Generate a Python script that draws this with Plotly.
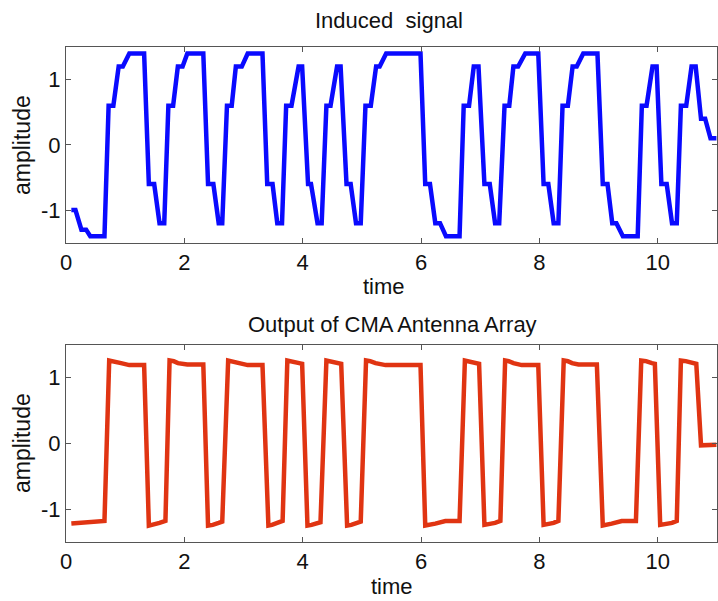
import plotly.graph_objects as go

# Induced signal (blue) breakpoints
induced_t = [0.09, 0.16, 0.26, 0.34, 0.41, 0.65, 0.72, 0.80, 0.89, 0.96, 1.07, 1.32, 1.40, 1.49, 1.58, 1.66,
             1.73, 1.81, 1.89, 1.97, 2.05, 2.32, 2.40, 2.49, 2.58, 2.64, 2.72, 2.80, 2.87, 2.97, 3.07, 3.32,
             3.40, 3.49, 3.57, 3.65, 3.72, 3.81, 3.93, 3.99, 4.09, 4.14, 4.25, 4.32, 4.40, 4.47, 4.58, 4.64,
             4.74, 4.81, 4.90, 4.98, 5.06, 5.15, 5.24, 5.30, 5.41, 5.99, 6.07, 6.15, 6.24, 6.32, 6.42, 6.65,
             6.72, 6.81, 6.89, 6.97, 7.07, 7.16, 7.25, 7.32, 7.41, 7.49, 7.56, 7.64, 7.76, 7.98, 8.07, 8.15,
             8.24, 8.32, 8.39, 8.48, 8.56, 8.63, 8.74, 8.98, 9.07, 9.15, 9.23, 9.30, 9.41, 9.66, 9.73, 9.81,
             9.91, 9.98, 10.06, 10.15, 10.24, 10.32, 10.39, 10.48, 10.57, 10.64, 10.73, 10.80, 10.89, 10.99]
induced_y = [-1.0, -1.0, -1.3, -1.3, -1.4, -1.4, 0.6, 0.6, 1.2, 1.2, 1.4, 1.4, -0.6, -0.6, -1.2, -1.2,
             0.6, 0.6, 1.2, 1.2, 1.4, 1.4, -0.6, -0.6, -1.2, -1.2, 0.6, 0.6, 1.2, 1.2, 1.4, 1.4,
             -0.6, -0.6, -1.2, -1.2, 0.6, 0.6, 1.2, 1.2, -0.6, -0.6, -1.2, -1.2, 0.6, 0.6, 1.2, 1.2,
             -0.6, -0.6, -1.2, -1.2, 0.6, 0.6, 1.2, 1.2, 1.4, 1.4, -0.6, -0.6, -1.2, -1.2, -1.4, -1.4,
             0.6, 0.6, 1.2, 1.2, -0.6, -0.6, -1.2, -1.2, 0.6, 0.6, 1.2, 1.2, 1.4, 1.4, -0.6, -0.6,
             -1.2, -1.2, 0.6, 0.6, 1.2, 1.2, 1.4, 1.4, -0.6, -0.6, -1.2, -1.2, -1.4, -1.4, 0.6, 0.6,
             1.2, 1.2, -0.6, -0.6, -1.2, -1.2, 0.6, 0.6, 1.2, 1.2, 0.4, 0.4, 0.1, 0.1]

# CMA antenna array output (red) breakpoints
output_t = [0.09, 0.30, 0.50, 0.65, 0.73, 0.80, 0.93, 1.07, 1.32, 1.40, 1.47, 1.58, 1.68, 1.75, 1.82, 1.89,
            2.05, 2.32, 2.40, 2.48, 2.58, 2.64, 2.74, 2.80, 2.90, 3.07, 3.32, 3.42, 3.48, 3.58, 3.66, 3.74,
            3.82, 3.94, 3.99, 4.08, 4.15, 4.30, 4.40, 4.47, 4.61, 4.65, 4.75, 4.82, 4.98, 5.07, 5.14, 5.23,
            5.40, 5.99, 6.07, 6.15, 6.24, 6.41, 6.65, 6.74, 6.81, 6.95, 6.98, 7.07, 7.15, 7.25, 7.34, 7.42,
            7.48, 7.56, 7.70, 7.98, 8.07, 8.15, 8.24, 8.32, 8.41, 8.48, 8.55, 8.66, 8.97, 9.07, 9.14, 9.22,
            9.39, 9.63, 9.72, 9.80, 9.90, 9.95, 10.04, 10.12, 10.24, 10.32, 10.39, 10.47, 10.57, 10.65, 10.73, 10.99]
output_y = [-1.22, -1.20, -1.19, -1.18, 1.26, 1.25, 1.22, 1.19, 1.19, -1.25, -1.24, -1.21, -1.18, 1.26, 1.25, 1.22,
            1.20, 1.20, -1.25, -1.24, -1.21, -1.19, 1.26, 1.25, 1.22, 1.19, 1.19, -1.25, -1.24, -1.21, -1.18, 1.26,
            1.25, 1.22, 1.21, -1.25, -1.24, -1.20, 1.26, 1.25, 1.22, 1.21, -1.25, -1.24, -1.19, 1.26, 1.25, 1.22,
            1.19, 1.19, -1.25, -1.24, -1.22, -1.18, -1.18, 1.26, 1.25, 1.22, 1.21, -1.24, -1.23, -1.21, -1.18, 1.26,
            1.25, 1.22, 1.19, 1.19, -1.24, -1.23, -1.21, -1.18, 1.26, 1.25, 1.22, 1.20, 1.20, -1.25, -1.24, -1.22,
            -1.18, -1.18, 1.26, 1.25, 1.22, 1.21, -1.24, -1.23, -1.21, -1.18, 1.26, 1.25, 1.22, 1.21, -0.03, -0.02]

x_ticks = [0, 2, 4, 6, 8, 10]
y_ticks = [-1, 0, 1]
y_tick_text = ["-1", "0", "1"]

top_title = "Induced\u00a0\u00a0signal"
bottom_title = "Output of CMA Antenna Array"
x_label = "time"
y_label = "amplitude"

FONT = "Liberation Sans, Arial, sans-serif"
W, H = 718, 601
L, R, T, B = 66, 1, 47, 59


def px(xp):
    return (xp - L) / (W - L - R)


def py(yp):
    return (H - B - yp) / (H - T - B)


fig = go.Figure()
fig.add_trace(go.Scatter(x=induced_t, y=induced_y, mode="lines",
                         line=dict(color="#0a0aff", width=4.5), xaxis="x", yaxis="y",
                         showlegend=False))
fig.add_trace(go.Scatter(x=output_t, y=output_y, mode="lines",
                         line=dict(color="#e03412", width=4.5), xaxis="x2", yaxis="y2",
                         showlegend=False))

axis_common = dict(showline=True, linecolor="#555555", linewidth=1, mirror="ticks",
                   ticks="inside", ticklen=5, tickcolor="#555555", showgrid=False,
                   zeroline=False, automargin=False,
                   tickfont=dict(family=FONT, size=22, color="#111111"))

top_dom = [py(242.7), 1.0]
bot_dom = [0.0, py(344.7)]

fig.update_layout(
    template="none",
    width=W, height=H,
    margin=dict(l=L, r=R, t=T, b=B, autoexpand=False),
    paper_bgcolor="white", plot_bgcolor="white",
    xaxis=dict(domain=[0, 1], range=[0, 11], tickvals=x_ticks, anchor="y", **axis_common),
    yaxis=dict(domain=top_dom, range=[-1.5, 1.5], tickvals=y_ticks, ticktext=y_tick_text,
               anchor="x", **axis_common),
    xaxis2=dict(domain=[0, 1], range=[0, 11], tickvals=x_ticks, anchor="y2", **axis_common),
    yaxis2=dict(domain=bot_dom, range=[-1.5, 1.5], tickvals=y_ticks, ticktext=y_tick_text,
                anchor="x2", **axis_common),
)

ann_font = dict(family=FONT, size=22, color="#111111")
annotations = [
    dict(text=top_title, x=px(389), y=py(20)),
    dict(text=bottom_title, x=px(392), y=py(324.5)),
    dict(text=x_label, x=px(384), y=py(286)),
    dict(text=x_label, x=px(392), y=py(586)),
    dict(text=y_label, x=px(22), y=py(145), textangle=-90, font=dict(family=FONT, size=23, color="#111111")),
    dict(text=y_label, x=px(22), y=py(443), textangle=-90, font=dict(family=FONT, size=23, color="#111111")),
]
for a in annotations:
    a.setdefault("font", ann_font)
    fig.add_annotation(xref="paper", yref="paper", xanchor="center", yanchor="middle",
                       showarrow=False, **a)

fig.write_html(
    "out.html",
    config={"displayModeBar": False},
    post_script="document.body.style.margin='0';document.body.style.overflow='hidden';"
                "document.documentElement.style.overflow='hidden';",
)
